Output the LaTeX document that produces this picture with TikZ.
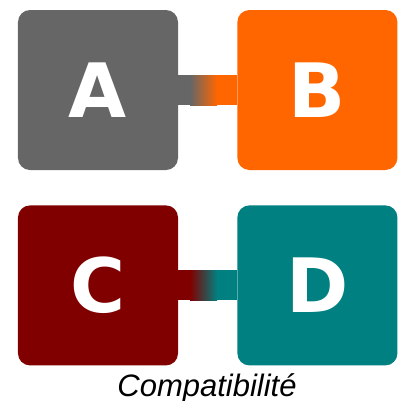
\documentclass[tikz,border=0pt]{standalone}
\usepackage{fontspec}
\usepackage{tikz}
\usetikzlibrary{positioning}

\newfontfamily\blockfont{DejaVu Sans}
\newfontfamily\capfont{Liberation Sans}

\definecolor{greyA}{HTML}{666666}
\definecolor{orangeB}{HTML}{FF6600}
\definecolor{redC}{HTML}{800000}
\definecolor{tealD}{HTML}{008080}

\tikzset{
    block/.style={rectangle, rounded corners=12bp, minimum size=160bp,
        inner sep=0pt, text=white,
        font=\blockfont\bfseries\fontsize{75bp}{75bp}\selectfont},
}

\begin{document}
\begin{tikzpicture}[x=1bp, y=-1bp]

        % Fix the page to the size of the reference.
        \useasboundingbox (0, 0) rectangle (403, 401);

        % The four blocks.
        \node[block, fill=greyA]                     (A) at (98, 90) {A};
        \node[block, fill=orangeB, right=59bp of A] (B) {B};
        \node[block, fill=redC,    below=35bp of A] (C) {C};
        \node[block, fill=tealD,   right=59bp of C] (D) {D};

        % Bar from A to B, blending in the middle.
        \fill[greyA] ([yshift=15bp]A.east) rectangle ([xshift=12bp, yshift=-15bp]A.east);
        \shade[left color=greyA, right color=orangeB]
            ([xshift=12bp, yshift=15bp]A.east) rectangle ([xshift=-20bp, yshift=-15bp]B.west);
        \fill[orangeB] ([xshift=-20bp, yshift=15bp]B.west) rectangle ([yshift=-15bp]B.west);

        % Bar from C to D.
        \fill[redC] ([yshift=15bp]C.east) rectangle ([xshift=12bp, yshift=-15bp]C.east);
        \shade[left color=redC, right color=tealD]
            ([xshift=12bp, yshift=15bp]C.east) rectangle ([xshift=-20bp, yshift=-15bp]D.west);
        \fill[tealD] ([xshift=-20bp, yshift=15bp]D.west) rectangle ([yshift=-15bp]D.west);

        % Caption under the blocks.
        \node[anchor=base, inner sep=0pt, font=\capfont\itshape\fontsize{31bp}{31bp}\selectfont]
            (caption) at (207, 396) {Compatibilité};
    \end{tikzpicture}
\end{document}
